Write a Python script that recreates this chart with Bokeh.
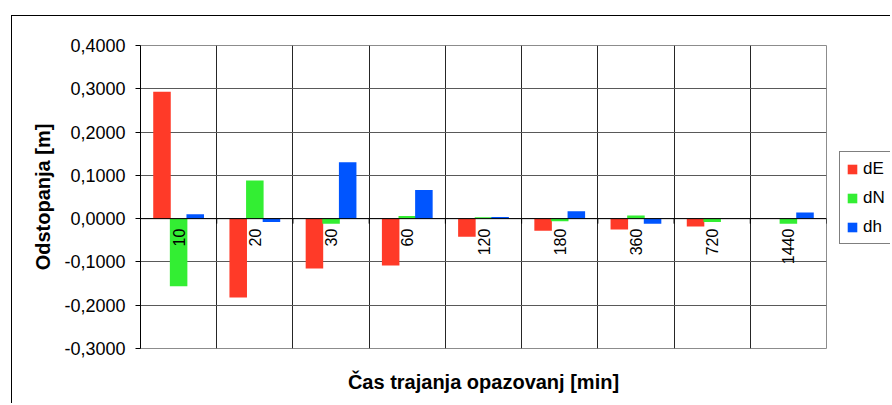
import math
from bokeh.plotting import figure
from bokeh.layouts import row
from bokeh.models import (Range1d, FixedTicker, ColumnDataSource, Span, Legend, LegendItem)
from bokeh.core.properties import value
from bokeh.embed import file_html
from bokeh.resources import INLINE

# ---- data ----
categories = ["10", "20", "30", "60", "120", "180", "360", "720", "1440"]
dE = [0.293, -0.182, -0.115, -0.108, -0.042, -0.028, -0.025, -0.018, 0.0]
dN = [-0.156, 0.088, -0.012, 0.006, 0.003, -0.006, 0.007, -0.008, -0.012]
dh = [0.010, -0.008, 0.130, 0.066, 0.004, 0.017, -0.012, 0.0, 0.014]
series_names = ["dE", "dN", "dh"]
series_colors = ["#FF3A28", "#33EE33", "#0055FF"]
y_ticks = [-0.3, -0.2, -0.1, 0.0, 0.1, 0.2, 0.3, 0.4]
y_tick_labels = ["-0,3000", "-0,2000", "-0,1000", "0,0000", "0,1000", "0,2000", "0,3000", "0,4000"]
x_title = "Čas trajanja opazovanj [min]"
y_title = "Odstopanja [m]"

FONT = "Liberation Sans"
n = len(categories)
ymin, ymax = y_ticks[0], y_ticks[-1]
H = 387

p = figure(width=824, height=H, output_backend="svg", toolbar_location=None,
           x_range=Range1d(0, n), y_range=Range1d(ymin, ymax),
           min_border_left=128, min_border_right=10, min_border_top=29, min_border_bottom=55)
p.background_fill_color = "white"
p.border_fill_color = "white"
p.outline_line_color = "#8c8c8c"
p.outline_line_width = 1

# grids
p.xgrid.ticker = FixedTicker(ticks=list(range(n + 1)))
p.xgrid.grid_line_color = "#262626"
p.ygrid.ticker = FixedTicker(ticks=y_ticks)
p.ygrid.grid_line_color = "#595959"

# y axis
p.yaxis.ticker = FixedTicker(ticks=y_ticks)
p.yaxis.major_label_overrides = {t: l for t, l in zip(y_ticks, y_tick_labels)}
p.yaxis.major_label_text_font = FONT
p.yaxis.major_label_text_font_size = "18px"
p.yaxis.major_label_text_color = "black"
p.yaxis.major_tick_in = 0
p.yaxis.major_tick_out = 5
p.yaxis.minor_tick_line_color = None
p.yaxis.axis_line_color = "black"
p.yaxis.major_tick_line_color = "black"
p.yaxis.major_label_standoff = 10
p.yaxis.axis_label = y_title
p.yaxis.axis_label_text_font = FONT
p.yaxis.axis_label_text_font_style = "bold"
p.yaxis.axis_label_text_font_size = "20px"
p.yaxis.axis_label_text_color = "black"
p.yaxis.axis_label_standoff = 7

# x axis (title only)
p.xaxis.ticker = FixedTicker(ticks=[])
p.xaxis.axis_line_color = None
p.xaxis.major_tick_line_color = None
p.xaxis.minor_tick_line_color = None
p.xaxis.axis_label = x_title
p.xaxis.axis_label_text_font = FONT
p.xaxis.axis_label_text_font_style = "bold"
p.xaxis.axis_label_text_font_size = "20px"
p.xaxis.axis_label_text_color = "black"
p.xaxis.axis_label_standoff = 22

# bars
offset = 0.218
bar_w = 0.23
centers = [i + 0.5 for i in range(n)]
series_vals = [dE, dN, dh]
for k, (vals, col) in enumerate(zip(series_vals, series_colors)):
    src = ColumnDataSource(dict(x=[c + (k - 1) * offset for c in centers], top=vals))
    p.vbar(x="x", top="top", bottom=0, width=bar_w, source=src,
           fill_color=col, line_color=None)

# zero line
p.add_layout(Span(location=0, dimension="width", line_color="black", line_width=1))

# category tick marks at zero line
frame_h = 303
tick_len = 5 * (ymax - ymin) / frame_h
p.segment(x0=list(range(n + 1)), y0=[0] * (n + 1), x1=list(range(n + 1)),
          y1=[-tick_len] * (n + 1), line_color="black", line_width=1)

# category labels (rotated, below zero line)
lab_src = ColumnDataSource(dict(x=centers, y=[0] * n, text=categories))
p.text(x="x", y="y", text="text", source=lab_src, angle=math.pi / 2,
       text_align="right", text_baseline="middle", y_offset=10,
       text_font=value(FONT), text_font_size="16px", text_color="black")

# legend figure (to the right of the chart)
lg = figure(width=54, height=H, output_backend="svg", toolbar_location=None,
            x_range=Range1d(0, n), y_range=Range1d(ymin, ymax),
            x_axis_location=None, y_axis_location=None,
            min_border_left=0, min_border_right=0, min_border_top=29, min_border_bottom=55)
lg.outline_line_color = None
lg.grid.visible = False
lg.background_fill_color = "white"
lg.border_fill_color = "white"
items = []
for k, (name, vals, col) in enumerate(zip(series_names, series_vals, series_colors)):
    r = lg.vbar(x=[c + (k - 1) * offset for c in centers], top=vals, bottom=0, width=bar_w,
                fill_color=col, line_color=None, visible=False)
    items.append(LegendItem(label=name, renderers=[r]))
legend = Legend(items=items, location=(3, 104))
legend.label_text_font = FONT
legend.label_text_font_size = "17px"
legend.label_text_color = "black"
legend.glyph_width = 12
legend.glyph_height = 12
legend.label_height = 21
legend.spacing = 8
legend.padding = 6
legend.margin = 0
legend.label_standoff = 5
legend.border_line_color = "black"
legend.border_line_width = 1
legend.background_fill_color = "white"
legend.background_fill_alpha = 1
legend.inactive_fill_alpha = 0
lg.add_layout(legend, "center")

layout = row(p, lg)
layout.styles = {"border-left": "1px solid #000", "border-top": "1px solid #000",
                 "margin-left": "11px", "margin-top": "15px"}

open("out.html", "w").write(file_html(layout, INLINE))
